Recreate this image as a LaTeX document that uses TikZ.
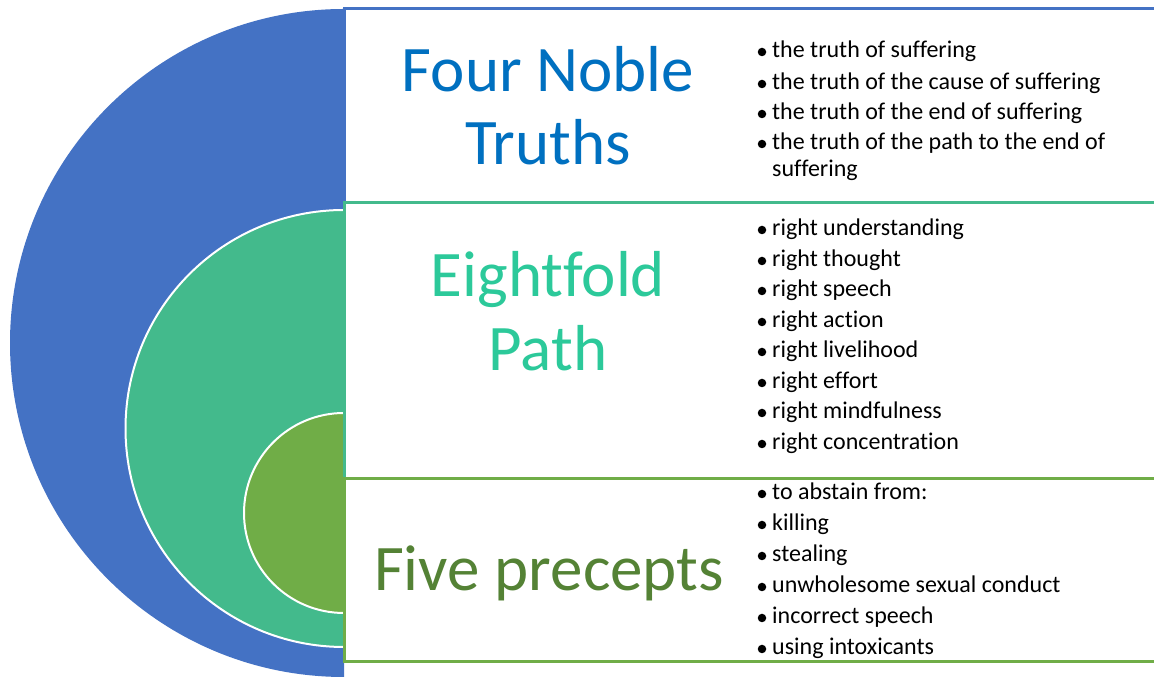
\documentclass[tikz,border=0pt]{standalone}
\usepackage{fontspec}
\setmainfont{Carlito}[Ligatures=NoCommon]
\definecolor{cblue}{HTML}{4472C4}
\definecolor{cgreen}{HTML}{43BA8C}
\definecolor{colive}{HTML}{70AD47}
\definecolor{tblue}{HTML}{0070C0}
\definecolor{tgreen}{HTML}{2CC99A}
\definecolor{tolive}{HTML}{548235}
\tikzset{
  half/.style={line width=2pt, draw=white},
  band/.style={line width=3pt, fill=white},
  title/.style={anchor=base, inner sep=0pt, font=\fontsize{65}{73}\selectfont},
  btext/.style={anchor=base west, inner sep=0pt, font=\fontsize{24}{28}\selectfont, text=black},
  bdot/.style={circle, fill=black, inner sep=0pt, minimum size=8.5pt},
}
\newcommand\bul[3]{%
  \node[bdot] (#1b) at (762,#2+6) {};
  \node[btext] (#1) at (772,#2) {#3};}
\begin{document}
\begin{tikzpicture}[x=1pt,y=1pt]
\useasboundingbox (0,0) rectangle (1154,679);
% half discs
\fill[cblue] (344,670) arc[start angle=90,end angle=270,radius=334pt] -- cycle;
\filldraw[half, fill=cgreen] (344,469) arc[start angle=90,end angle=270,radius=218.5pt] -- cycle;
\filldraw[half, fill=colive] (344,266) arc[start angle=90,end angle=270,radius=100pt] -- cycle;
% text boxes
\draw[band, draw=cblue] (344,476) rectangle (1160,670);
\draw[band, draw=cgreen] (344,200) rectangle (1160,476);
\draw[band, draw=colive] (344,17) rectangle (1160,200);
% titles
\node[title, text=tblue] (t1a) at (548,587) {Four Noble};
\node[title, text=tblue] (t1b) at (548,514) {Truths};
\node[title, text=tgreen] (t2a) at (548,382) {Eightfold};
\node[title, text=tgreen] (t2b) at (548,308) {Path};
\node[title, text=tolive] (t3) at (549,88) {Five precepts};
% lists
\bul{a1}{621}{the truth of suffering}
\bul{a2}{589}{the truth of the cause of suffering}
\bul{a3}{559}{the truth of the end of suffering}
\bul{a4}{529}{the truth of the path to the end of}
\node[btext] (a5) at (772,502) {suffering};
\bul{b1}{443}{right understanding}
\bul{b2}{412}{right thought}
\bul{b3}{382}{right speech}
\bul{b4}{351}{right action}
\bul{b5}{321}{right livelihood}
\bul{b6}{290}{right effort}
\bul{b7}{260}{right mindfulness}
\bul{b8}{229}{right concentration}
\bul{c1}{179}{to abstain from:}
\bul{c2}{148}{killing}
\bul{c3}{117}{stealing}
\bul{c4}{86}{unwholesome sexual conduct}
\bul{c5}{55}{incorrect speech}
\bul{c6}{24}{using intoxicants}
\end{tikzpicture}
\end{document}
